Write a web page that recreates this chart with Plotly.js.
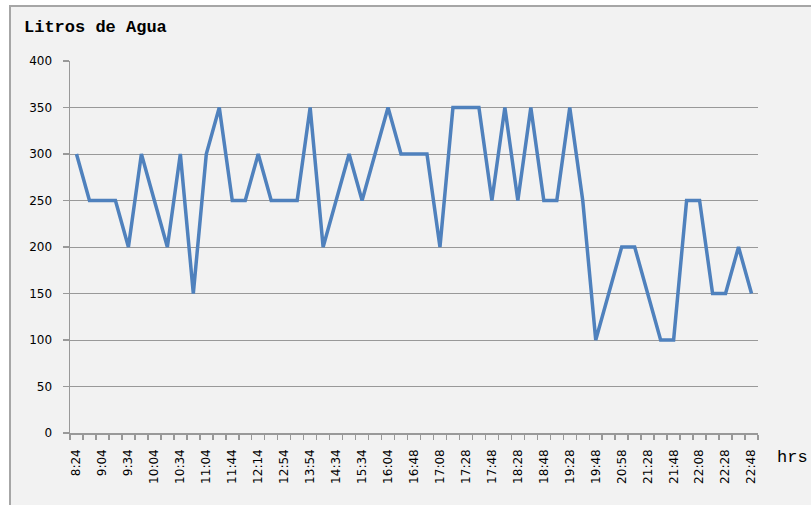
<!DOCTYPE html>
<html>
<head>
<meta charset="utf-8">
<script src="https://cdn.plot.ly/plotly-3.0.1.min.js"></script>
<style>
html,body{margin:0;padding:0;background:#ffffff;overflow:hidden;}
#frame{position:absolute;left:9px;top:5px;border-top:2px solid #a6a6a6;border-left:2px solid #a6a6a6;background:#f2f2f2;}
</style>
</head>
<body>
<div id="frame"><div id="chart"></div></div>
<script>
// Tick labels (every other category is labelled)
const tickLabels = ["8:24","9:04","9:34","10:04","10:34","11:04","11:44","12:14","12:54","13:54",
  "14:34","15:34","16:04","16:48","17:08","17:28","17:48","18:28","18:48","19:28",
  "19:48","20:58","21:28","21:48","22:08","22:28","22:48"];

// Litres of water per reading (53 readings)
const litros = [300,250,250,250,200,300,250,200,300,150,
  300,350,250,250,300,250,250,250,350,200,
  250,300,250,300,350,300,300,300,200,350,
  350,350,250,350,250,350,250,250,350,250,
  100,150,200,200,150,100,100,250,250,150,
  150,200,150];

const idx = litros.map((v,i)=>i);
const tickPos = tickLabels.map((t,i)=>i*2);

const trace = {
  x: idx, y: litros, type: 'scatter', mode: 'lines',
  line: {color:'#4f81bd', width:3.5},
  hoverinfo: 'skip'
};

const layout = {
  width: 800, height: 498,
  margin: {l:59, r:53, t:54, b:72},
  paper_bgcolor: '#f2f2f2', plot_bgcolor: '#f2f2f2',
  showlegend: false,
  font: {family:'DejaVu Sans, Verdana, sans-serif', size:11, color:'#000'},
  xaxis: {
    range:[-0.5, litros.length-0.5], tickmode:'array', tickvals:tickPos, ticktext:tickLabels,
    ticks:'', tickangle:-90, showgrid:false, zeroline:false, ticklabelstandoff:10,
    showline:true, linecolor:'#999999', linewidth:1.5,
    tickfont:{family:'DejaVu Sans, Verdana, sans-serif', size:12, color:'#000'},
    minor:{tickmode:'linear', tick0:-0.5, dtick:1, ticks:'outside', ticklen:5, tickcolor:'#999999', tickwidth:1.5, showgrid:false}
  },
  yaxis: {
    range:[0,400], dtick:50, tick0:0, ticks:'outside', ticklen:6, tickcolor:'#999999', tickwidth:1.5,
    showgrid:true, gridcolor:'#999999', gridwidth:1, zeroline:false, ticklabelstandoff:8,
    showline:true, linecolor:'#999999', linewidth:1.5,
    tickfont:{family:'DejaVu Sans, Verdana, sans-serif', size:12, color:'#000'}
  },
  annotations: [
    {text:'<b>Litros de Agua</b>', xref:'paper', yref:'paper', x:-0.0698, y:1.089,
     xanchor:'left', yanchor:'middle', showarrow:false,
     font:{family:'Liberation Mono, Courier New, monospace', size:17, color:'#000'}},
    {text:'hrs', xref:'paper', yref:'paper', x:1.025, y:-0.067,
     xanchor:'left', yanchor:'middle', showarrow:false,
     font:{family:'Liberation Mono, Courier New, monospace', size:17, color:'#000'}}
  ]
};

Plotly.newPlot('chart', [trace], layout, {displayModeBar:false, staticPlot:true});
</script>
</body>
</html>
